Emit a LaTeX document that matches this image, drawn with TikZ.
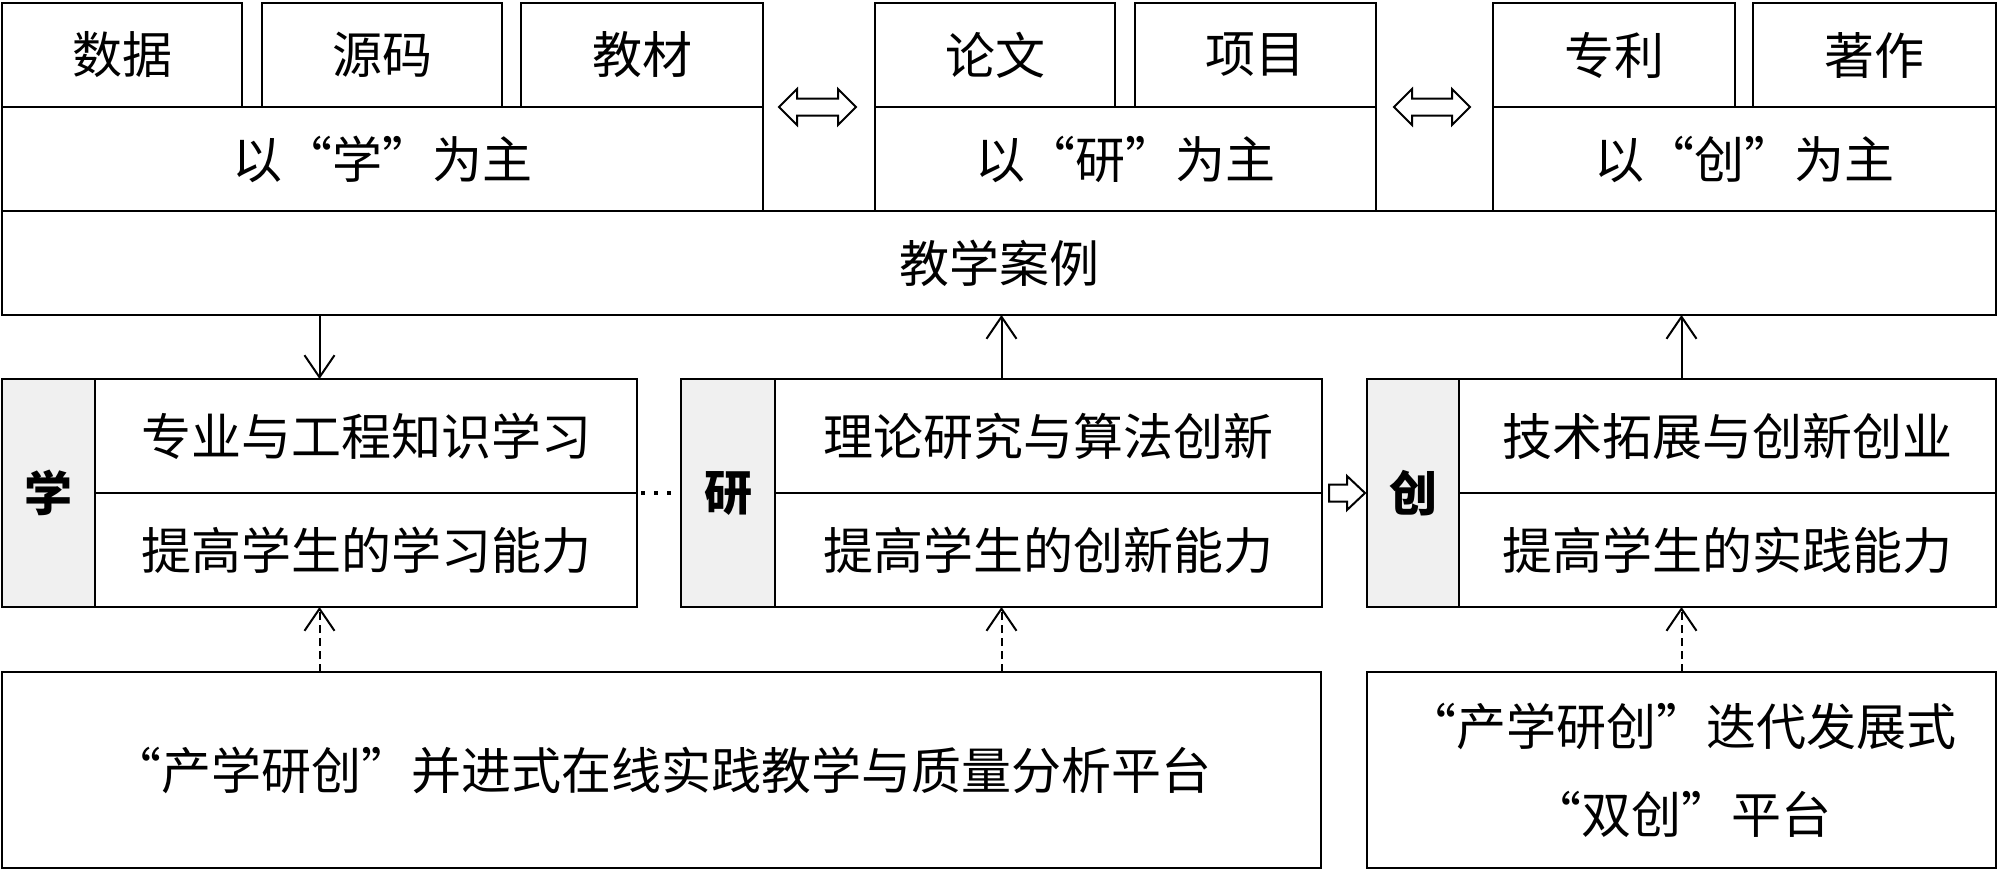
\documentclass[tikz,border=0pt]{standalone}
\usepackage{fontspec}
\newfontfamily\cjk{Noto Sans CJK SC}
\usetikzlibrary{arrows.meta}
\begin{document}
\begin{tikzpicture}[x=1pt,y=-1pt,
  box/.style={draw, line width=2.5pt, inner sep=0pt, outer sep=0pt, align=center,
    font=\cjk\fontsize{50}{88}\selectfont},
  lab/.style={box, fill=gray!12, font=\cjk\bfseries\fontsize{48}{56}\selectfont},
  arr/.style={line width=2pt, -{Straight Barb[length=22pt,width=30pt,line width=2pt]}},
  darr/.style={arr, dash pattern=on 8pt off 5pt},
  dotline/.style={line width=3.5pt, dash pattern=on 4pt off 9pt},
  hollow/.style={line width=2pt, fill=white, line join=miter}
]
\useasboundingbox (0,0) rectangle (2000,871);

% top row
\node[box, minimum width=240pt, minimum height=104pt] (sj) at (122,55) {数据};
\node[box, minimum width=240pt, minimum height=104pt] (ym) at (382,55) {源码};
\node[box, minimum width=242pt, minimum height=104pt] (jc) at (642,55) {教材};
\node[box, minimum width=761pt, minimum height=104pt] (xz) at (382.5,159) {以“学”为主};

\node[box, minimum width=240pt, minimum height=104pt] (lw) at (995,55) {论文};
\node[box, minimum width=241pt, minimum height=104pt] (xm) at (1255.5,55) {项目};
\node[box, minimum width=501pt, minimum height=104pt] (yz) at (1125.5,159) {以“研”为主};

\node[box, minimum width=242pt, minimum height=104pt] (zl) at (1614,55) {专利};
\node[box, minimum width=243pt, minimum height=104pt] (zz) at (1874.5,55) {著作};
\node[box, minimum width=503pt, minimum height=104pt] (cz) at (1744.5,159) {以“创”为主};

\node[box, minimum width=1994pt, minimum height=104pt] (case) at (999,263) {教学案例};

% middle groups
\node[box, minimum width=635pt, minimum height=228pt] (xg) at (319.5,493) {};
\node[lab, minimum width=93pt, minimum height=228pt] (xl) at (48.5,493) {学};
\node[box, minimum width=542pt, minimum height=114pt] (xa) at (366,436) {专业与工程知识学习};
\node[box, minimum width=542pt, minimum height=114pt] (xb) at (366,550) {提高学生的学习能力};

\node[box, minimum width=641pt, minimum height=228pt] (yg) at (1001.5,493) {};
\node[lab, minimum width=94pt, minimum height=228pt] (yl) at (728,493) {研};
\node[box, minimum width=547pt, minimum height=114pt] (ya) at (1048.5,436) {理论研究与算法创新};
\node[box, minimum width=547pt, minimum height=114pt] (yb) at (1048.5,550) {提高学生的创新能力};

\node[box, minimum width=629pt, minimum height=228pt] (cg) at (1681.5,493) {};
\node[lab, minimum width=92pt, minimum height=228pt] (cl) at (1413,493) {创};
\node[box, minimum width=537pt, minimum height=114pt] (ca) at (1727.5,436) {技术拓展与创新创业};
\node[box, minimum width=537pt, minimum height=114pt] (cb) at (1727.5,550) {提高学生的实践能力};

% platforms
\node[box, minimum width=1319pt, minimum height=196pt] (p1) at (661.5,770) {“产学研创”并进式在线实践教学与质量分析平台};
\node[box, minimum width=629pt, minimum height=196pt] (p2) at (1681.5,770) {“产学研创”迭代发展式\\“双创”平台};

% arrows between case and groups
\draw[arr] (xg.north |- case.south) -- (xg.north);
\draw[arr] (yg.north) -- (yg.north |- case.south);
\draw[arr] (cg.north) -- (cg.north |- case.south);

% dashed arrows from platforms
\draw[darr] (p1.north -| xg.south) -- (xg.south);
\draw[darr] (p1.north -| yg.south) -- (yg.south);
\draw[darr] (p2.north -| cg.south) -- (cg.south);

% dotted link
\draw[dotline] ([xshift=4pt]xa.south east) -- ([xshift=-3pt]yg.west |- xa.south east);

% hollow double arrows
\draw[hollow] (779,107) -- (797,89) -- (797,98.5) -- (838,98.5) -- (838,89) -- (856,107)
  -- (838,125) -- (838,115.5) -- (797,115.5) -- (797,125) -- cycle;
\draw[hollow] (1394,107) -- (1412,89) -- (1412,98.5) -- (1452,98.5) -- (1452,89) -- (1470,107)
  -- (1452,125) -- (1452,115.5) -- (1412,115.5) -- (1412,125) -- cycle;

% hollow right arrow
\draw[hollow] (1329,484.5) -- (1347,484.5) -- (1347,476) -- (1365,493) -- (1347,510)
  -- (1347,501.5) -- (1329,501.5) -- cycle;
\end{tikzpicture}
\end{document}
